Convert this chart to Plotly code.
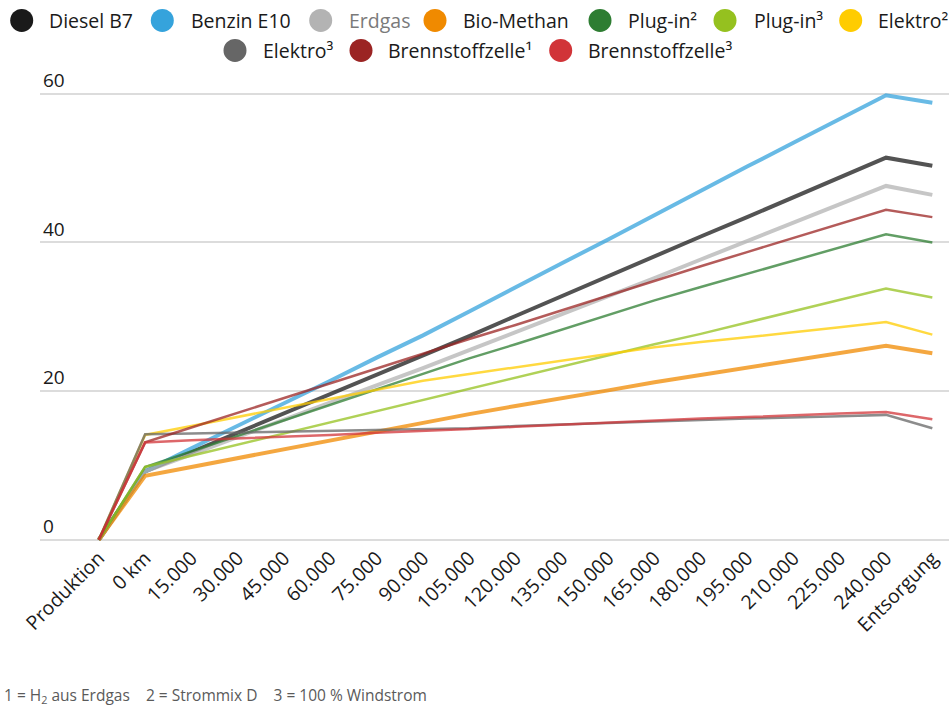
import plotly.graph_objects as go

# --- data -------------------------------------------------------------
categories = ["Produktion", "0 km", "15.000", "30.000", "45.000", "60.000",
              "75.000", "90.000", "105.000", "120.000", "135.000", "150.000",
              "165.000", "180.000", "195.000", "210.000", "225.000", "240.000",
              "Entsorgung"]

diesel_b7 = [0, 9.2, 11.8, 14.4, 17.0, 19.5, 22.1, 24.7, 27.4, 30.1, 32.8,
             35.5, 38.1, 40.8, 43.4, 46.1, 48.7, 51.4, 50.3]
benzin_e10 = [0, 9.2, 12.3, 15.3, 18.4, 21.4, 24.5, 27.5, 30.7, 34.0, 37.2,
              40.4, 43.7, 46.9, 50.2, 53.4, 56.6, 59.8, 58.8]
erdgas = [0, 9.2, 11.5, 13.8, 16.1, 18.5, 20.8, 23.1, 25.5, 27.9, 30.4,
          32.8, 35.2, 37.7, 40.2, 42.6, 45.1, 47.6, 46.4]
bio_methan = [0, 8.6, 9.8, 11.0, 12.2, 13.4, 14.6, 15.8, 16.9, 18.0, 19.0,
              20.1, 21.2, 22.2, 23.2, 24.2, 25.1, 26.1, 25.1]
plugin_2 = [0, 9.8, 11.9, 14.0, 16.1, 18.2, 20.3, 22.4, 24.4, 26.3, 28.3,
            30.3, 32.2, 34.0, 35.8, 37.6, 39.4, 41.1, 40.0]
plugin_3 = [0, 9.8, 11.3, 12.8, 14.4, 15.9, 17.4, 18.9, 20.4, 21.8, 23.3,
            24.8, 26.3, 27.7, 29.2, 30.7, 32.2, 33.8, 32.6]
elektro_2 = [0, 14.1, 15.3, 16.5, 17.7, 18.9, 20.2, 21.4, 22.3, 23.2, 24.1,
             25.0, 25.9, 26.6, 27.3, 27.9, 28.6, 29.3, 27.6]
elektro_3 = [0, 14.2, 14.3, 14.4, 14.5, 14.6, 14.7, 14.8, 15.0, 15.3, 15.5,
             15.8, 16.0, 16.1, 16.3, 16.4, 16.6, 16.8, 15.0]
bz_1 = [0, 13.1, 15.1, 17.1, 19.0, 21.0, 23.0, 25.0, 27.0, 28.9, 30.9,
        32.9, 34.8, 36.8, 38.7, 40.6, 42.5, 44.4, 43.4]
bz_3 = [0, 13.1, 13.4, 13.6, 13.9, 14.1, 14.4, 14.6, 14.9, 15.2, 15.5,
        15.7, 16.1, 16.3, 16.5, 16.8, 17.0, 17.2, 16.2]

y_ticks = [0, 20, 40, 60]
footnote = "1 = H<sub>2</sub> aus Erdgas    2 = Strommix D    3 = 100 % Windstrom"

# name, values, base colour, line width
series = [
    ("Diesel B7", diesel_b7, (26, 26, 26), 4),
    ("Benzin E10", benzin_e10, (53, 163, 220), 4),
    ("Erdgas", erdgas, (179, 179, 179), 4),
    ("Bio-Methan", bio_methan, (240, 138, 0), 4),
    ("Plug-in²", plugin_2, (46, 125, 50), 2.5),
    ("Plug-in³", plugin_3, (149, 193, 31), 2.5),
    ("Elektro²", elektro_2, (255, 204, 0), 2.5),
    ("Elektro³", elektro_3, (102, 102, 102), 2.5),
    ("Brennstoffzelle¹", bz_1, (155, 36, 35), 2.5),
    ("Brennstoffzelle³", bz_3, (209, 52, 56), 2.5),
]

# --- geometry -----------------------------------------------------------
W, H = 949, 706
L, R, T = 40, 0, 63.6
Y_MIN, Y_MAX = -0.3, 64
PX_PER_UNIT = 7.443
plot_h = (Y_MAX - Y_MIN) * PX_PER_UNIT
B = H - T - plot_h
plot_w = W - L - R


def paper_x(px):
    return (px - L) / plot_w


def paper_y(py):
    return 1 - (py - T) / plot_h


FONT = "Open Sans, Noto Sans, sans-serif"

fig = go.Figure()
for name, vals, rgb, width in series:
    fig.add_trace(go.Scatter(
        x=categories, y=vals, mode="lines", name=name,
        line=dict(color="rgba(%d,%d,%d,0.75)" % rgb, width=width),
        showlegend=False, hoverinfo="x+y+name",
    ))

# --- legend drawn as circles + labels in two centred rows ------------------
legend_rows = [
    # (series index, circle centre x, circle centre y, label x)
    (0, 21.7, 20, 48), (1, 162.3, 20, 189.5), (2, 320.7, 20, 348),
    (3, 435, 20, 461.5), (4, 600, 20, 626.5), (5, 725, 20, 752.5),
    (6, 850.7, 20, 877),
    (7, 235, 50, 261.5), (8, 361, 50, 386.5), (9, 560.7, 50, 587),
]
shapes = []
annotations = []
r = 11.5
for idx, cx, cy, tx in legend_rows:
    name, _, rgb, _ = series[idx]
    shapes.append(dict(
        type="circle", xref="paper", yref="paper",
        x0=paper_x(cx - r), x1=paper_x(cx + r),
        y0=paper_y(cy + r), y1=paper_y(cy - r),
        fillcolor="rgb(%d,%d,%d)" % rgb, line=dict(width=0),
    ))
    annotations.append(dict(
        text=name, xref="paper", yref="paper",
        x=paper_x(tx - 1), y=paper_y(cy),
        xanchor="left", yanchor="middle", showarrow=False,
        font=dict(family=FONT, size=19.5,
                  color="#7a7a7a" if name == "Erdgas" else "#1a1a1a"),
    ))

annotations.append(dict(
    text=footnote, xref="paper", yref="paper",
    x=paper_x(2), y=paper_y(695.5), xanchor="left", yanchor="middle",
    showarrow=False, font=dict(family=FONT, size=15.5, color="#5a5a5a"),
))

fig.update_layout(
    width=W, height=H,
    margin=dict(l=L, r=R, t=T, b=B, pad=0),
    paper_bgcolor="white", plot_bgcolor="white",
    font=dict(family=FONT, color="#1a1a1a"),
    shapes=shapes, annotations=annotations,
    showlegend=False,
    xaxis=dict(
        type="category", range=[-1.27, 18.36],
        showgrid=False, zeroline=False, showline=False, ticks="",
        tickangle=-45, tickfont=dict(family=FONT, size=19.5, color="#1a1a1a"),
        fixedrange=True,
    ),
    yaxis=dict(
        range=[Y_MIN, Y_MAX], tickvals=y_ticks,
        ticktext=[str(v) for v in y_ticks],
        showgrid=True, gridcolor="#dcdcdc", gridwidth=2,
        zeroline=False, showline=False, ticks="",
        ticklabelposition="inside top",
        tickfont=dict(family=FONT, size=19, color="#1a1a1a"),
        fixedrange=True,
    ),
)

fig.write_html("out.html")
